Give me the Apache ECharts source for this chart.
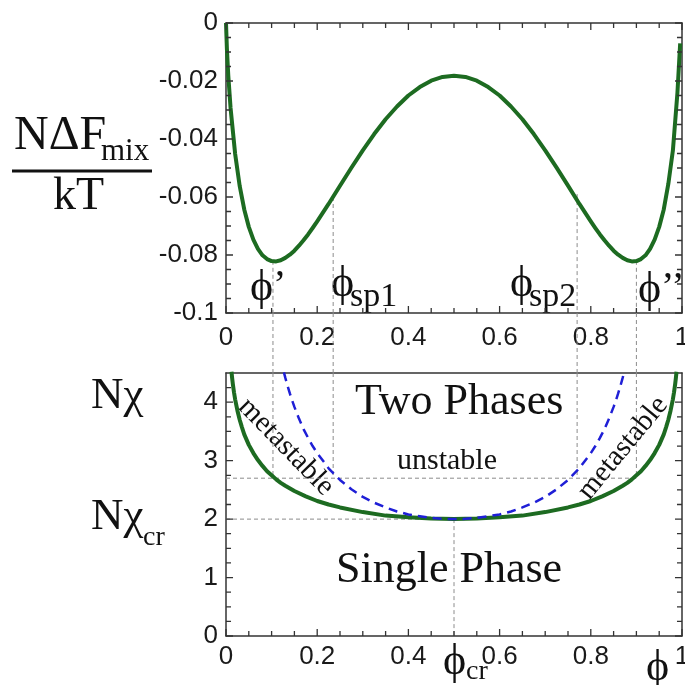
<!DOCTYPE html>
<html>
<head>
<meta charset="utf-8">
<script src="https://cdn.jsdelivr.net/npm/echarts/dist/echarts.min.js"></script>
<style>
  body { margin: 0; background: #fff; }
  #main { width: 685px; height: 685px; }
</style>
</head>
<body>
<div id="main"></div>
<script>
// free energy of mixing, N*dF/kT against phi
var phiF = [0, 0.002, 0.005, 0.01, 0.02, 0.03, 0.04, 0.05, 0.06, 0.07, 0.08, 0.09, 0.10, 0.11, 0.12, 0.13, 0.14, 0.15, 0.16, 0.17, 0.18, 0.19, 0.20, 0.225, 0.25, 0.275, 0.30, 0.325, 0.35, 0.375, 0.40, 0.425, 0.45, 0.475, 0.50,
            0.525, 0.55, 0.575, 0.60, 0.625, 0.65, 0.675, 0.70, 0.725, 0.75, 0.775, 0.80, 0.81, 0.82, 0.83, 0.84, 0.85, 0.86, 0.87, 0.88, 0.89, 0.90, 0.91, 0.92, 0.93, 0.94, 0.95, 0.96, 0.97, 0.98, 0.99, 0.996];
var fMix = [0, -0.0090, -0.0181, -0.0293, -0.0451, -0.0562, -0.0643, -0.0703, -0.0747, -0.0779, -0.0801, -0.0814, -0.0821, -0.0822, -0.0818, -0.0810, -0.0799, -0.0785, -0.0768, -0.0749, -0.0729, -0.0707, -0.0684, -0.0624, -0.0561, -0.0499, -0.0439, -0.0383, -0.0332, -0.0288, -0.0250, -0.0221, -0.0199, -0.0186, -0.0182,
            -0.0186, -0.0199, -0.0221, -0.0250, -0.0288, -0.0332, -0.0383, -0.0439, -0.0499, -0.0561, -0.0624, -0.0684, -0.0707, -0.0729, -0.0749, -0.0768, -0.0785, -0.0799, -0.0810, -0.0818, -0.0822, -0.0821, -0.0814, -0.0801, -0.0779, -0.0747, -0.0703, -0.0643, -0.0555, -0.0440, -0.0240, -0.0070];

// binodal (green) of the phase diagram
var phiBin = [0.012, 0.0135, 0.015, 0.0175, 0.02, 0.025, 0.03, 0.035, 0.04, 0.045, 0.05, 0.06, 0.07, 0.08, 0.09, 0.10, 0.11, 0.12, 0.13, 0.15, 0.175, 0.20, 0.225, 0.25, 0.30, 0.35, 0.40, 0.45, 0.50,
              0.55, 0.60, 0.65, 0.70, 0.75, 0.775, 0.80, 0.825, 0.85, 0.87, 0.88, 0.89, 0.90, 0.91, 0.92, 0.93, 0.94, 0.95, 0.955, 0.96, 0.965, 0.97, 0.975, 0.98, 0.9825, 0.985, 0.9865, 0.988];
var chiBin = [4.52, 4.41, 4.31, 4.17, 4.05, 3.86, 3.70, 3.57, 3.45, 3.36, 3.27, 3.13, 3.01, 2.91, 2.82, 2.75, 2.68, 2.62, 2.57, 2.48, 2.39, 2.31, 2.25, 2.20, 2.12, 2.06, 2.03, 2.01, 2.00,
              2.01, 2.03, 2.06, 2.12, 2.20, 2.25, 2.31, 2.39, 2.48, 2.57, 2.62, 2.68, 2.75, 2.82, 2.91, 3.01, 3.13, 3.27, 3.36, 3.45, 3.57, 3.70, 3.86, 4.05, 4.17, 4.31, 4.41, 4.52];

// spinodal (blue dashed)
var phiSp = [0.127, 0.13, 0.135, 0.14, 0.145, 0.15, 0.16, 0.17, 0.18, 0.19, 0.20, 0.225, 0.25, 0.275, 0.30, 0.325, 0.35, 0.375, 0.40, 0.425, 0.45, 0.475, 0.50,
             0.525, 0.55, 0.575, 0.60, 0.625, 0.65, 0.675, 0.70, 0.725, 0.75, 0.775, 0.80, 0.81, 0.82, 0.83, 0.84, 0.85, 0.855, 0.86, 0.865, 0.87, 0.873];
var chiSp = [4.51, 4.42, 4.28, 4.15, 4.03, 3.92, 3.72, 3.54, 3.39, 3.25, 3.13, 2.87, 2.67, 2.51, 2.38, 2.28, 2.20, 2.13, 2.08, 2.05, 2.02, 2.005, 2.00,
             2.005, 2.02, 2.05, 2.08, 2.13, 2.20, 2.28, 2.38, 2.51, 2.67, 2.87, 3.13, 3.25, 3.39, 3.54, 3.72, 3.92, 4.03, 4.15, 4.28, 4.42, 4.51];

// guide positions
var phiMarks = [0.103, 0.235, 0.77, 0.90];   // phi', phi_sp1, phi_sp2, phi''
var fMarks = [-0.082, -0.060, -0.059, -0.082];
var chiUnstable = 2.7;
var chiCr = 2;
var phiCr = 0.5;

// tick positions
var xMajor = [0, 0.2, 0.4, 0.6, 0.8, 1];
var xMinor = [0.05, 0.1, 0.15, 0.25, 0.3, 0.35, 0.45, 0.5, 0.55, 0.65, 0.7, 0.75, 0.85, 0.9, 0.95];
var fMajor = [-0.1, -0.08, -0.06, -0.04, -0.02, 0];
var fMinor = [-0.095, -0.09, -0.085, -0.075, -0.07, -0.065, -0.055, -0.05, -0.045, -0.035, -0.03, -0.025, -0.015, -0.01, -0.005];
var chiMajor = [0, 1, 2, 3, 4];
var chiMinor = [0.25, 0.5, 0.75, 1.25, 1.5, 1.75, 2.25, 2.5, 2.75, 3.25, 3.5, 3.75, 4.25];

// styles
var green = '#1d6b21';
var blue = '#1f1fd6';
var guide = { color: '#8c8c8c', width: 1, type: [4, 3] };
var axisCol = '#333';
var sans = 'Liberation Sans';
var PHI = '\u03D5';
// inward tick lengths, in axis units (about 7px major, 5px minor)
var tickX = [0.0154, 0.011];     // along phi
var tickF = [0.0024, 0.0017];    // along N dF/kT
var tickChi = [0.12, 0.086];     // along N chi

function zip(a, b) { return a.map(function (v, i) { return [v, b[i]]; }); }

function guideLine(xi, yi, pts) {
    return { type: 'line', xAxisIndex: xi, yAxisIndex: yi, data: pts, symbol: 'none',
             lineStyle: guide, z: 1, silent: true };
}

// a row of tick marks as one broken polyline: dir 'x' puts ticks along the x axis at y = edge
function tickLine(xi, yi, vals, dir, edge, d) {
    var pts = [];
    vals.forEach(function (v) {
        if (dir === 'x') pts.push([v, edge], [v, edge + d], [v, '-']);
        else pts.push([edge, v], [edge + d, v], ['-', v]);
    });
    return { type: 'line', xAxisIndex: xi, yAxisIndex: yi, data: pts, symbol: 'none', connectNulls: false,
             clip: false, silent: true, z: 6, lineStyle: { color: axisCol, width: 1.3 } };
}

var series = [];
phiMarks.forEach(function (p, i) {
    series.push(guideLine(0, 0, [[p, fMarks[i]], [p, -0.1]]));
    series.push(guideLine(2, 2, [[p, 0], [p, 1]]));
    series.push(guideLine(3, 3, [[p, 4.5], [p, chiUnstable]]));
});
series.push(guideLine(3, 3, [[0, chiUnstable], [phiMarks[3], chiUnstable]]));
series.push(guideLine(3, 3, [[0, chiCr], [phiCr, chiCr]]));
series.push(guideLine(3, 3, [[phiCr, chiCr], [phiCr, 0]]));

series.push({ type: 'line', xAxisIndex: 0, yAxisIndex: 0, data: zip(phiF, fMix), symbol: 'none',
              lineStyle: { color: green, width: 4, join: 'round' }, z: 3 });
series.push({ type: 'line', xAxisIndex: 3, yAxisIndex: 3, data: zip(phiSp, chiSp), symbol: 'none',
              lineStyle: { color: blue, width: 2.5, type: [9, 6] }, z: 4 });
series.push({ type: 'line', xAxisIndex: 3, yAxisIndex: 3, data: zip(phiBin, chiBin), symbol: 'none',
              lineStyle: { color: green, width: 4, join: 'round' }, z: 3 });

// top panel ticks on all four sides
series.push(tickLine(0, 0, xMajor, 'x', -0.1, tickF[0]), tickLine(0, 0, xMinor, 'x', -0.1, tickF[1]));
series.push(tickLine(0, 0, xMajor, 'x', 0, -tickF[0]), tickLine(0, 0, xMinor, 'x', 0, -tickF[1]));
series.push(tickLine(0, 0, fMajor, 'y', 0, tickX[0]), tickLine(0, 0, fMinor, 'y', 0, tickX[1]));
series.push(tickLine(0, 0, fMajor, 'y', 1, -tickX[0]), tickLine(0, 0, fMinor, 'y', 1, -tickX[1]));
// bottom panel ticks: bottom, left, right
series.push(tickLine(3, 3, xMajor, 'x', 0, tickChi[0]), tickLine(3, 3, xMinor, 'x', 0, tickChi[1]));
series.push(tickLine(3, 3, chiMajor, 'y', 0, tickX[0]), tickLine(3, 3, chiMinor, 'y', 0, tickX[1]));
series.push(tickLine(3, 3, chiMajor, 'y', 1, -tickX[0]), tickLine(3, 3, chiMinor, 'y', 1, -tickX[1]));

function axisLine() { return { show: true, onZero: false, lineStyle: { color: axisCol, width: 1.5 } }; }

function xAx(grid, pos, labels, margin) {
    return { type: 'value', gridIndex: grid, position: pos, min: 0, max: 1, interval: 0.2,
             axisLine: axisLine(), axisTick: { show: false }, minorTick: { show: false },
             axisLabel: { show: labels, margin: margin, fontFamily: sans, fontSize: 26, color: '#1a1a1a' },
             splitLine: { show: false } };
}

function yTop(pos, labels) {
    return { type: 'value', gridIndex: 0, position: pos, min: -0.1, max: 0, interval: 0.02,
             axisLine: axisLine(), axisTick: { show: false }, minorTick: { show: false },
             axisLabel: { show: labels, margin: 8, fontFamily: sans, fontSize: 26, color: '#1a1a1a' },
             splitLine: { show: false } };
}

function yBot(pos, labels) {
    return { type: 'value', gridIndex: 2, position: pos, min: 0, max: 4.5, interval: 1,
             axisLine: axisLine(), axisTick: { show: false }, minorTick: { show: false },
             axisLabel: { show: labels, showMaxLabel: false, margin: 8, fontFamily: sans, fontSize: 26, color: '#1a1a1a' },
             splitLine: { show: false } };
}

var option = {
    animation: false,
    backgroundColor: '#fff',
    grid: [
        { left: 226, top: 23, width: 456, height: 290, outerBoundsMode: 'none', containLabel: false },
        { left: 226, top: 313, width: 456, height: 60, outerBoundsMode: 'none', containLabel: false },
        { left: 226, top: 373, width: 456, height: 263, outerBoundsMode: 'none', containLabel: false }
    ],
    xAxis: [
        xAx(0, 'bottom', true, 12),
        xAx(0, 'top', false, 0),
        { type: 'value', gridIndex: 1, min: 0, max: 1, show: false },
        xAx(2, 'bottom', true, 8),
        xAx(2, 'top', false, 0)
    ],
    yAxis: [
        yTop('left', true),
        yTop('right', false),
        { type: 'value', gridIndex: 1, min: 0, max: 1, show: false },
        yBot('left', true),
        yBot('right', false)
    ],
    series: series,
    graphic: [
        { type: 'text', left: 14, top: 112, style: { text: 'NΔF', font: '48px "Liberation Serif"', fill: '#111' } },
        { type: 'text', left: 101, top: 136, style: { text: 'mix', font: '31px "Liberation Serif"', fill: '#111' } },
        { type: 'rect', shape: { x: 12, y: 169.5, width: 140, height: 3 }, style: { fill: '#111' } },
        { type: 'text', left: 53, top: 174, style: { text: 'kT', font: '46px "Liberation Serif"', fill: '#111' } },
        { type: 'text', left: 91, top: 374, style: { text: 'Nχ', font: '45px "Liberation Serif"', fill: '#111' } },
        { type: 'text', left: 91, top: 495, style: { text: 'Nχ', font: '45px "Liberation Serif"', fill: '#111' } },
        { type: 'text', left: 143, top: 524, style: { text: 'cr', font: '28px "Liberation Serif"', fill: '#111' } },
        { type: 'text', left: 250, top: 266, style: { text: PHI, font: '44px "Liberation Serif"', fill: '#111' } },
        { type: 'text', left: 273, top: 266, style: { text: '’', font: '40px "Liberation Serif"', fill: '#111' } },
        { type: 'text', left: 331, top: 262, style: { text: PHI, font: '44px "Liberation Serif"', fill: '#111' } },
        { type: 'text', left: 350, top: 280, style: { text: 'sp1', font: '34px "Liberation Serif"', fill: '#111' } },
        { type: 'text', left: 510, top: 262, style: { text: PHI, font: '44px "Liberation Serif"', fill: '#111' } },
        { type: 'text', left: 529, top: 280, style: { text: 'sp2', font: '34px "Liberation Serif"', fill: '#111' } },
        { type: 'text', left: 638, top: 268, style: { text: PHI, font: '44px "Liberation Serif"', fill: '#111' } },
        { type: 'text', left: 661, top: 268, style: { text: '’’', font: '40px "Liberation Serif"', fill: '#111' } },
        { type: 'text', left: 355, top: 380, style: { text: 'Two Phases', font: '44px "Liberation Serif"', fill: '#111' } },
        { type: 'text', left: 397, top: 446, style: { text: 'unstable', font: '30px "Liberation Serif"', fill: '#111' } },
        { type: 'text', left: 336, top: 548, style: { text: 'Single Phase', font: '44px "Liberation Serif"', fill: '#111' } },
        { type: 'text', x: 286, y: 447, rotation: -0.8,
          style: { text: 'metastable', font: '29px "Liberation Serif"', fill: '#111', align: 'center', verticalAlign: 'middle' } },
        { type: 'text', x: 623, y: 448, rotation: 0.88,
          style: { text: 'metastable', font: '29px "Liberation Serif"', fill: '#111', align: 'center', verticalAlign: 'middle' } },
        { type: 'text', left: 443, top: 640, style: { text: PHI, font: '44px "Liberation Serif"', fill: '#111' } },
        { type: 'text', left: 466, top: 658, style: { text: 'cr', font: '28px "Liberation Serif"', fill: '#111' } },
        { type: 'text', left: 646, top: 646, style: { text: PHI, font: '44px "Liberation Serif"', fill: '#111' } }
    ]
};

var chart = echarts.init(document.getElementById('main'));
chart.setOption(option);
</script>
</body>
</html>
